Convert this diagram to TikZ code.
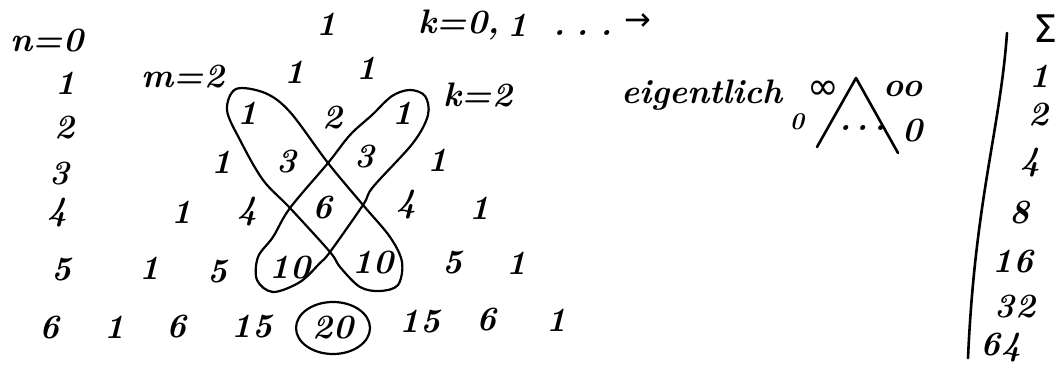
\documentclass[tikz,border=0pt]{standalone}
\usepackage{fontspec}
\newfontfamily\symfont{DejaVu Sans}
\begin{document}
\begin{tikzpicture}[x=1pt,y=-1pt,
  hw/.style={font=\fontsize{34}{34}\selectfont\bfseries\itshape, inner sep=0pt, text=black},
  hwsmall/.style={font=\fontsize{24}{24}\selectfont\bfseries\itshape, inner sep=0pt, text=black},
  hwsym/.style={font=\fontsize{32}{32}\selectfont\symfont, inner sep=0pt, text=black},
  hwbig/.style={font=\fontsize{38}{38}\selectfont\symfont, inner sep=0pt, text=black},
  loopline/.style={line width=2.2pt, black, line join=round},
  pen/.style={line width=2.6pt, line cap=round, line join=round, black}]
\useasboundingbox (0,0) rectangle (1062,382);
\fill[white] (0,0) rectangle (1062,382);
% left column
\node[hw] (n0) at (47,41) {n=0};
\node[hw] (l1) at (66,83) {1};
\node[hw] (l2) at (65,128) {2};
\node[hw] (l3) at (60,174) {3};
\node[hw] (l4) at (58,213) {4};
\node[hw] (l5) at (62,270) {5};
\node[hw] (l6) at (50,328) {6};
% triangle
\node[hw] (r00) at (327,24) {1};
\node[hw] (r10) at (295,72) {1};
\node[hw] (r11) at (367,68) {1};
\node[hw] (r20) at (248,113) {1};
\node[hw] (r21) at (333,118) {2};
\node[hw] (r22) at (403,113) {1};
\node[hw] (r30) at (222,162) {1};
\node[hw] (r31) at (287,162) {3};
\node[hw] (r32) at (365,157) {3};
\node[hw] (r33) at (438,160) {1};
\node[hw] (r40) at (182,212) {1};
\node[hw] (r41) at (248,212) {4};
\node[hw] (r42) at (323,208) {6};
\node[hw] (r43) at (407,205) {4};
\node[hw] (r44) at (480,208) {1};
\node[hw] (r50) at (150,268) {1};
\node[hw] (r51) at (218,272) {5};
\node[hw] (r52) at (290,268) {10};
\node[hw] (r53) at (373,263) {10};
\node[hw] (r54) at (453,263) {5};
\node[hw] (r55) at (517,263) {1};
\node[hw] (r60) at (115,327) {1};
\node[hw] (r61) at (177,327) {6};
\node[hw] (r62) at (252,327) {15};
\node[hw] (r63) at (333,328) {20};
\node[hw] (r64) at (420,322) {15};
\node[hw] (r65) at (487,320) {6};
\node[hw] (r66) at (557,320) {1};
% labels
\node[hw] (m2) at (183,77) {m=2};
\node[hw] (k2) at (478,95) {k=2};
\node[hw] (k0) at (459,25) {k=0,};
\node[hw] (k1) at (518,25) {1};
\node[hw, anchor=base] (kdots) at (583,36) {.\,\,.\,\,.};
\node[hwsym] (karr) at (638,22) {→};
\node[hw] (eig) at (702,95) {eigentlich};
\node[hwbig] (inf1) at (823,90) {∞};
\node[hw] (inf2) at (903,89) {oo};
\node[hwsmall] (z1) at (797,122) {0};
\node[hw, anchor=base] (zdots) at (863,131) {.\,.\,.};
\node[hw] (z2) at (913,131) {0};
\draw[pen] (817,147) -- (856,78) -- (898,153);
% sums
\node[hwbig] (sig) at (1045,29) {Σ};
\node[hw] (s1) at (1040,76) {1};
\node[hw] (s2) at (1039,115) {2};
\node[hw] (s4) at (1031,163) {4};
\node[hw] (s8) at (1020,213) {8};
\node[hw] (s16) at (1013,262) {16};
\node[hw] (s32) at (1015,307) {32};
\node[hw] (s64) at (1001,348) {64};
\draw[pen] (1007,33) .. controls (1000,130) and (975,200) .. (968,358);
% circle around 20
\draw[loopline] (r63) ellipse [x radius=37, y radius=26];
% loop A (NW-SE)
\draw[loopline] plot[smooth cycle, tension=0.55] coordinates {
 (236,89) (265,93) (290,112) (328,163) (363,205) (390,237) (402,262)
 (398,285) (380,291) (360,287) (340,267) (330,252) (290,208) (263,180)
 (240,140) (227,110)};
% loop B (NE-SW)
\draw[loopline] plot[smooth cycle, tension=0.55] coordinates {
 (410,90) (425,96) (428,115) (413,143) (373,187) (363,205) (330,252)
 (320,263) (300,282) (273,292) (257,280) (258,257) (273,237) (290,208)
 (328,163) (350,135) (372,115) (392,96)};
\end{tikzpicture}
\end{document}
